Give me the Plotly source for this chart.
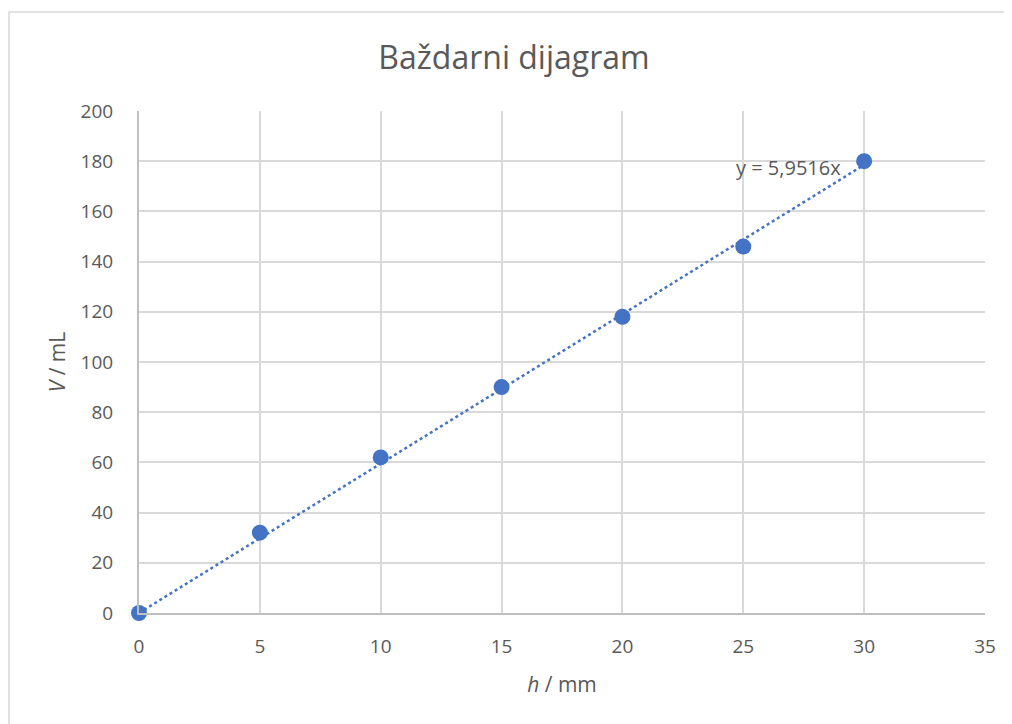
import plotly.graph_objects as go
import numpy as np

h_mm = [0, 5, 10, 15, 20, 25, 30]
V_mL = [0, 32, 62, 90, 118, 146, 180]
x_ticks = [0, 5, 10, 15, 20, 25, 30, 35]
y_ticks = [0, 20, 40, 60, 80, 100, 120, 140, 160, 180, 200]

x = np.array(h_mm, dtype=float)
y = np.array(V_mL, dtype=float)
slope = float((x * y).sum() / (x * x).sum())
trend_x = [min(h_mm), max(h_mm)]
trend_y = [slope * v for v in trend_x]

blue = "#4472C4"
grey_text = "#595959"
font_family = "Open Sans, Noto Sans, sans-serif"

fig = go.Figure()
fig.add_trace(go.Scatter(x=trend_x, y=trend_y, mode="lines",
                         line=dict(color=blue, width=2.5, dash="dot"),
                         showlegend=False, hoverinfo="skip"))
fig.add_trace(go.Scatter(x=h_mm, y=V_mL, mode="markers",
                         marker=dict(color=blue, size=16),
                         showlegend=False, cliponaxis=False))

label = "y = " + f"{slope:.4f}".replace(".", ",") + "x"
fig.add_annotation(x=trend_x[1], y=trend_y[1], xref="x", yref="y",
                   text=label, showarrow=False, xanchor="right", yanchor="middle",
                   xshift=-21, yshift=-3,
                   font=dict(size=20, color=grey_text, family=font_family))

fig.add_shape(type="rect", xref="paper", yref="paper",
              x0=-0.1537, x1=1.06, y0=-0.26, y1=1.197,
              line=dict(color="#d9d9d9", width=1.5), fillcolor="rgba(0,0,0,0)",
              layer="below")

fig.update_layout(
    width=1012, height=724,
    margin=dict(l=131, r=35, t=103, b=119),
    paper_bgcolor="white", plot_bgcolor="white",
    title=dict(text="Baždarni dijagram", x=0.5, xanchor="center",
               y=1 - 50 / 724, yanchor="middle",
               font=dict(size=32, color=grey_text, family=font_family)),
    font=dict(family=font_family, color=grey_text),
    xaxis=dict(range=[0, 35], tickvals=x_ticks, showgrid=True,
               gridcolor="#d9d9d9", gridwidth=1.5, zeroline=False,
               showline=True, linecolor="#bfbfbf", linewidth=2,
               ticks="", ticklabelstandoff=15,
               tickfont=dict(size=19, color=grey_text),
               title=dict(text="<i>h</i> / mm", standoff=20,
                          font=dict(size=21, color=grey_text))),
    yaxis=dict(range=[0, 200], tickvals=y_ticks, showgrid=True,
               gridcolor="#d9d9d9", gridwidth=1.5, zeroline=False,
               showline=True, linecolor="#bfbfbf", linewidth=2,
               ticks="", ticklabelstandoff=20,
               tickfont=dict(size=19, color=grey_text),
               title=dict(text="<i>V</i> / mL", standoff=9,
                          font=dict(size=21, color=grey_text))),
)
fig.write_html("out.html")
